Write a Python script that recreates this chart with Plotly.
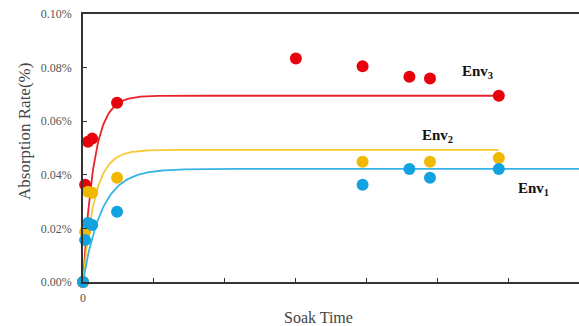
import numpy as np
import plotly.graph_objects as go

# Observed data (soak time, absorption rate in %)
env3_x = [0, 0.03, 0.07, 0.13, 0.48, 3.0, 3.94, 4.6, 4.89, 5.86]
env3_y = [0, 0.0363, 0.0523, 0.0535, 0.0669, 0.0834, 0.0805, 0.0766, 0.0759, 0.0695]
env2_x = [0, 0.03, 0.07, 0.13, 0.48, 3.94, 4.89, 5.86]
env2_y = [0, 0.0187, 0.0337, 0.0333, 0.0389, 0.0449, 0.0449, 0.0463]
env1_x = [0, 0.03, 0.07, 0.13, 0.48, 3.94, 4.6, 4.89, 5.86]
env1_y = [0, 0.0157, 0.0220, 0.0213, 0.0262, 0.0363, 0.0422, 0.0389, 0.0422]

# Fitted saturation curves y = a * (1 - exp(-k t))
fit_a = {"Env3": 0.0695, "Env2": 0.0493, "Env1": 0.0422}
fit_k = {"Env3": 6.5, "Env2": 6.0, "Env1": 3.8}
fit_end = {"Env3": 5.86, "Env2": 5.86, "Env1": 7.0}

y_ticks = [0, 0.02, 0.04, 0.06, 0.08, 0.10]
y_ticktext = ["0.00%", "0.02%", "0.04%", "0.06%", "0.08%", "0.10%"]
x_ticks = [0]
x_ticktext = ["0"]

colors = {
    "Env3": ("#e8222a", "#e8000b"),
    "Env2": ("#f5c93a", "#f0b800"),
    "Env1": ("#37b4e6", "#12a2e0"),
}

fig = go.Figure()

for name in ["Env3", "Env2", "Env1"]:
    t = np.linspace(0, fit_end[name], 400)
    yv = fit_a[name] * (1 - np.exp(-fit_k[name] * t))
    fig.add_trace(go.Scatter(x=t, y=yv, mode="lines",
                             line=dict(color=colors[name][0], width=1.8),
                             hoverinfo="skip", showlegend=False, cliponaxis=False))

for name, xs, ys in [("Env3", env3_x, env3_y), ("Env2", env2_x, env2_y), ("Env1", env1_x, env1_y)]:
    fig.add_trace(go.Scatter(x=xs, y=ys, mode="markers",
                             marker=dict(color=colors[name][1], size=12, line=dict(width=0)),
                             showlegend=False, cliponaxis=False))

serif = "'Liberation Serif', 'Times New Roman', 'DejaVu Serif', serif"
for txt, x, y in [("<b>Env<sub>3</sub></b>", 5.56, 0.0785),
                  ("<b>Env<sub>2</sub></b>", 5.0, 0.0546),
                  ("<b>Env<sub>1</sub></b>", 6.35, 0.0348)]:
    fig.add_annotation(x=x, y=y, text=txt, showarrow=False,
                       font=dict(family=serif, size=15, color="#111111"))

# Axis titles (placed to match the reference)
fig.add_annotation(xref="paper", yref="paper", x=(24 - 83) / 496, y=(282 - 132) / 268,
                   xanchor="center", yanchor="middle",
                   text="Absorption Rate(%)", textangle=-90, showarrow=False,
                   font=dict(family=serif, size=17, color="#444444"))
fig.add_annotation(xref="paper", yref="paper", x=(318 - 83) / 496, y=(282 - 317) / 268,
                   xanchor="center", yanchor="middle",
                   text="Soak Time", showarrow=False,
                   font=dict(family=serif, size=16, color="#444444"))

fig.update_layout(
    width=579, height=326,
    margin=dict(l=83, r=0, t=14, b=44),
    plot_bgcolor="white", paper_bgcolor="white",
    font=dict(family=serif, color="#555555", size=12),
    xaxis=dict(range=[0, 6.99], tickvals=x_ticks, ticktext=x_ticktext,
               ticks="inside", ticklen=4, tickcolor="#333333",
               minor=dict(tick0=0, dtick=1, ticks="inside", ticklen=4, tickcolor="#333333"),
               showline=True, linecolor="#333333", linewidth=1.5, mirror=True,
               showgrid=False, zeroline=False, ticklabelstandoff=4,
               tickfont=dict(family=serif, size=12, color="#555555")),
    yaxis=dict(range=[0, 0.1], tickvals=y_ticks, ticktext=y_ticktext,
               ticks="inside", ticklen=4, tickcolor="#333333",
               showline=True, linecolor="#333333", linewidth=1.5,
               showgrid=False, zeroline=False, ticklabelstandoff=7,
               tickfont=dict(family=serif, size=12, color="#555555")),
)

fig.write_html("out.html")
